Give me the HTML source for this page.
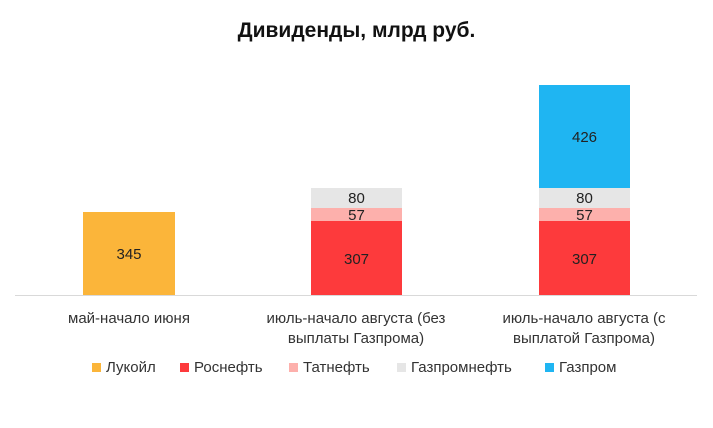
<!DOCTYPE html>
<html><head><meta charset="utf-8"><style>
body{margin:0;width:713px;height:428px;background:#fff;font-family:"Liberation Sans","DejaVu Sans",sans-serif;position:relative;overflow:hidden;color:#222}
.a{position:absolute}
.t{font-weight:bold;font-size:21px;left:0;width:713px;text-align:center;top:19px;color:#111}
.v{font-size:15px;text-align:center;line-height:1}
.lbl{font-size:15px;text-align:center;line-height:20px;color:#333}
.lg{font-size:15px;top:359px;color:#333}
.sq{display:inline-block;width:9px;height:9px;margin-right:5px}
</style></head><body>
<div class="a t">Дивиденды, млрд руб.</div>
<div class="a" style="left:15px;top:295px;width:682px;height:1px;background:#d9d9d9"></div>
<div class="a" style="left:83px;top:212px;width:92px;height:83px;background:#fbb53a"></div>
<div class="a v" style="left:83px;width:92px;top:247px">345</div>

<div class="a" style="left:311px;top:221px;width:91px;height:74px;background:#fd3a3c"></div>
<div class="a" style="left:311px;top:208px;width:91px;height:13px;background:#fdb0ac"></div>
<div class="a" style="left:311px;top:188px;width:91px;height:20px;background:#e6e6e6"></div>
<div class="a v" style="left:311px;width:91px;top:252px">307</div>
<div class="a v" style="left:311px;width:91px;top:208px">57</div>
<div class="a v" style="left:311px;width:91px;top:191px">80</div>

<div class="a" style="left:539px;top:221px;width:91px;height:74px;background:#fd3a3c"></div>
<div class="a" style="left:539px;top:208px;width:91px;height:13px;background:#fdb0ac"></div>
<div class="a" style="left:539px;top:188px;width:91px;height:20px;background:#e6e6e6"></div>
<div class="a" style="left:539px;top:85px;width:91px;height:103px;background:#1fb5f2"></div>
<div class="a v" style="left:539px;width:91px;top:252px">307</div>
<div class="a v" style="left:539px;width:91px;top:208px">57</div>
<div class="a v" style="left:539px;width:91px;top:191px">80</div>
<div class="a v" style="left:539px;width:91px;top:130px">426</div>

<div class="a lbl" style="left:29px;width:200px;top:309px">май-начало июня</div>
<div class="a lbl" style="left:236px;width:240px;top:309px">июль-начало августа (без<br>выплаты Газпрома)</div>
<div class="a lbl" style="left:464px;width:240px;top:309px">июль-начало августа (с<br>выплатой Газпрома)</div>

<div class="a lg" style="left:92px"><span class="sq" style="background:#fbb53a"></span>Лукойл</div>
<div class="a lg" style="left:180px"><span class="sq" style="background:#fd3a3c"></span>Роснефть</div>
<div class="a lg" style="left:289px"><span class="sq" style="background:#fdb0ac"></span>Татнефть</div>
<div class="a lg" style="left:397px"><span class="sq" style="background:#e6e6e6"></span>Газпромнефть</div>
<div class="a lg" style="left:545px"><span class="sq" style="background:#1fb5f2"></span>Газпром</div>
</body></html>
